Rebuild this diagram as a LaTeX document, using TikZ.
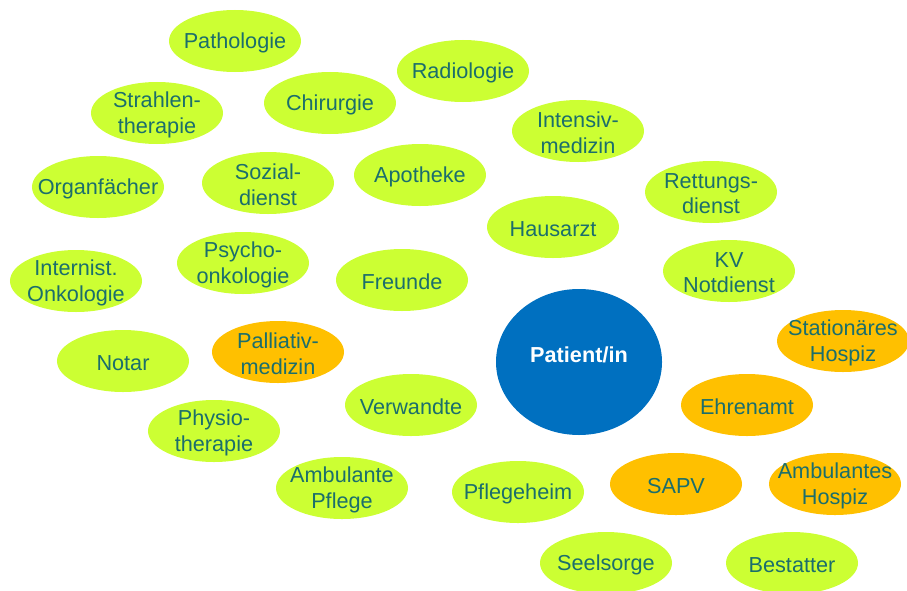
\documentclass[tikz,border=0pt]{standalone}
\usepackage{fontspec}
\setmainfont{Liberation Sans}
\usetikzlibrary{shapes.geometric}
\definecolor{lime}{HTML}{CCFF33}
\definecolor{amber}{HTML}{FFC000}
\definecolor{pblue}{HTML}{0070C0}
\definecolor{teal}{HTML}{1B6E6C}
\tikzset{
  fieldtext/.style={text=teal,inner sep=0pt,align=center,yshift=-1.5pt,font=\fontsize{18.5}{22}\selectfont},
  field/.style={ellipse,fill=lime,inner sep=0pt,minimum width=3.96cm,minimum height=1.86cm,
    label={[fieldtext]center:#1}},
  hospice/.style={field={#1},fill=amber},
  patient/.style={ellipse,fill=pblue,inner sep=0pt,minimum width=4.98cm,minimum height=4.38cm,
    label={[text=white,inner sep=0pt,yshift=6pt,font=\fontsize{18.5}{22}\selectfont\bfseries]center:#1}}
}
\begin{document}
\begin{tikzpicture}[x=0.03cm,y=-0.03cm]
        \useasboundingbox (0,0) rectangle (907,590);
        %% centre
        \node[patient={Patient/in}] (pat) at (579,362) {};
        %% clinic
        \node[field={Pathologie}] (patho) at (235,41) {};
        \node[field={Radiologie}] (radio) at (463,71) {};
        \node[field={Strahlen-\\therapie}] (strahl) at (157,113) {};
        \node[field={Chirurgie}] (chir) at (330,103) {};
        \node[field={Intensiv-\\medizin}] (intens) at (578,131) {};
        \node[field={Organf\"acher}] (organ) at (98,187) {};
        \node[field={Sozial-\\dienst}] (sozial) at (268,183) {};
        \node[field={Apotheke}] (apo) at (420,175) {};
        \node[field={Rettungs-\\dienst}] (rett) at (711,192) {};
        \node[field={Hausarzt}] (haus) at (553,227) {};
        \node[field={Internist.\\Onkologie}] (onko) at (76,281) {};
        \node[field={Psycho-\\onkologie}] (psycho) at (243,263) {};
        \node[field={Freunde}] (freund) at (402,280) {};
        \node[field={KV\\Notdienst}] (kv) at (729,271) {};
        \node[field={Notar}] (notar) at (123,361) {};
        \node[field={Verwandte}] (verw) at (411,405) {};
        \node[field={Physio-\\therapie}] (physio) at (214,431) {};
        \node[field={Ambulante\\Pflege}] (ambpfl) at (342,488) {};
        \node[field={Pflegeheim}] (heim) at (518,492) {};
        \node[field={Seelsorge}] (seel) at (606,563) {};
        \node[field={Bestatter}] (best) at (792,563) {};
        %% palliative care
        \node[hospice={Palliativ-\\medizin}] (pall) at (278,352) {};
        \node[hospice={Station\"ares\\Hospiz}] (stathos) at (843,341) {};
        \node[hospice={Ehrenamt}] (ehren) at (747,405) {};
        \node[hospice={SAPV}] (sapv) at (676,484) {};
        \node[hospice={Ambulantes\\Hospiz}] (ambhos) at (835,484) {};
\end{tikzpicture}
\end{document}
